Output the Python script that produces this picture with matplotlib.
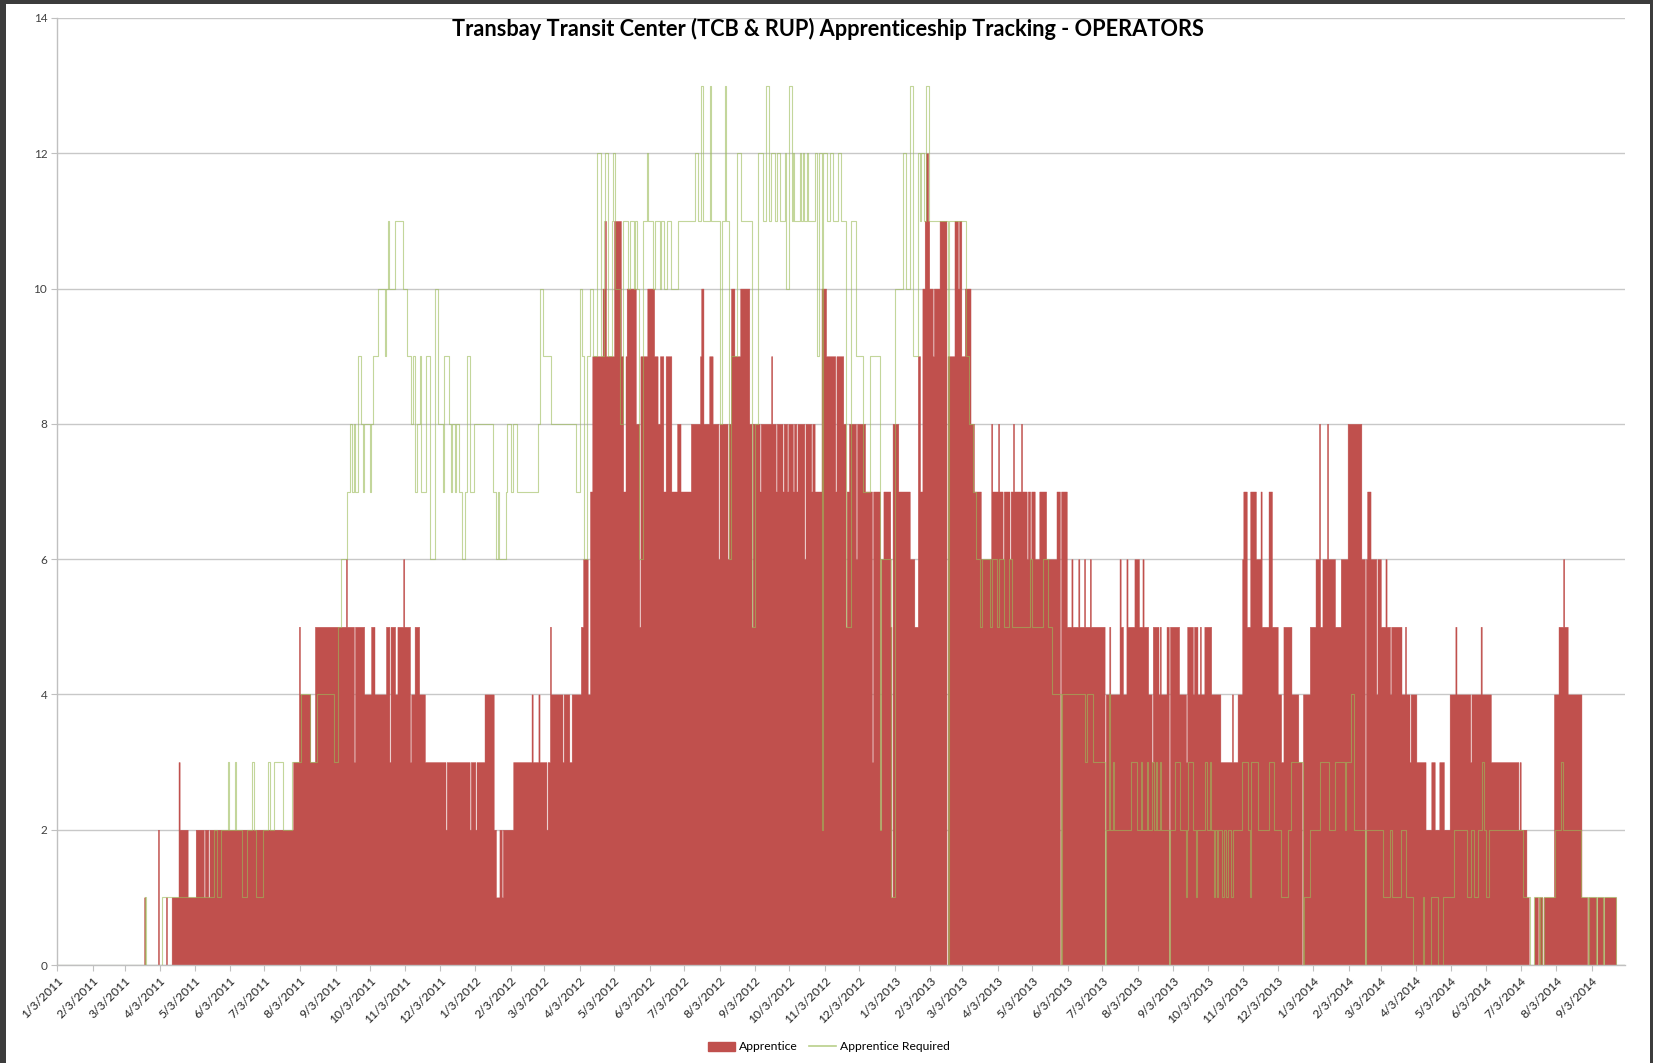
import numpy as np
import matplotlib
matplotlib.use("Agg")
import matplotlib.pyplot as plt
from matplotlib.patches import Rectangle, Patch
from matplotlib.lines import Line2D

plt.rcParams['font.family'] = ['Lato', 'DejaVu Sans']

TITLE = "Transbay Transit Center (TCB & RUP) Apprenticeship Tracking - OPERATORS"
START = "2011-01-03"      # first date of the series
END_DAY = 1368            # last date, days after START

# Apprentice (area): change points, days after START -> value held from that day
appr_day = [0, 76, 77, 88, 89, 95, 96, 100, 106, 107, 114, 121, 128, 129, 132, 133,
            206, 211, 212, 221, 225, 252, 253, 259, 260, 268, 274, 277, 287, 290, 291,
            295, 297, 302, 303, 308, 309, 312, 316, 321, 339, 340, 360, 361, 365, 366,
            373, 381, 383, 386, 388, 389, 398, 414, 415, 420, 421, 427, 428, 430, 431,
            441, 442, 447, 449, 457, 459, 463, 465, 467, 476, 478, 479, 486, 492, 494,
            496, 497, 505, 508, 509, 515, 521, 524, 526, 529, 531, 536, 541, 544, 553,
            561, 562, 564, 569, 572, 577, 578, 585, 586, 588, 591, 596, 604, 606, 607,
            613, 614, 623, 624, 627, 628, 633, 634, 637, 638, 642, 643, 645, 646, 652,
            653, 658, 659, 661, 667, 671, 679, 680, 686, 688, 689, 691, 697, 698, 705,
            711, 712, 718, 719, 721, 727, 728, 729, 734, 744, 748, 751, 753, 755, 757,
            758, 760, 761, 764, 765, 770, 776, 777, 783, 786, 787, 789, 792, 797, 800,
            806, 815, 816, 821, 822, 825, 826, 831, 832, 834, 835, 841, 842, 846, 847,
            849, 850, 853, 857, 863, 872, 875, 876, 881, 885, 886, 891, 892, 896, 897,
            901, 902, 914, 915, 918, 919, 927, 928, 930, 933, 934, 940, 944, 947, 948,
            952, 955, 956, 961, 962, 963, 968, 970, 971, 979, 985, 986, 991, 992, 995,
            997, 998, 1001, 1007, 1015, 1025, 1026, 1030, 1034, 1035, 1038, 1041, 1046,
            1050, 1051, 1057, 1060, 1065, 1068, 1070, 1077, 1083, 1086, 1087, 1093, 1098,
            1101, 1102, 1104, 1108, 1109, 1115, 1120, 1126, 1138, 1141, 1142, 1143, 1146,
            1151, 1152, 1155, 1159, 1160, 1163, 1164, 1173, 1176, 1177, 1180, 1181, 1186,
            1194, 1199, 1202, 1206, 1210, 1215, 1220, 1221, 1233, 1234, 1242, 1243, 1251,
            1275, 1276, 1277, 1282, 1284, 1289, 1292, 1293, 1296, 1297, 1306, 1310, 1314,
            1315, 1318, 1330, 1335, 1336, 1343, 1344, 1349, 1350, 1360, 1368]
appr_val = [0, 1, 0, 2, 0, 1, 0, 1, 3, 2, 1, 2, 1, 2, 1, 2,
            3, 5, 4, 3, 5, 6, 5, 3, 5, 4, 5, 4, 5, 3, 5,
            4, 5, 6, 5, 3, 4, 5, 4, 3, 2, 3, 2, 3, 2, 3,
            4, 2, 1, 2, 1, 2, 3, 4, 3, 4, 3, 2, 3, 5, 4,
            3, 4, 3, 4, 5, 6, 4, 7, 9, 10, 11, 9, 11, 9, 7,
            9, 10, 8, 5, 9, 10, 9, 8, 9, 7, 9, 7, 8, 7, 8,
            9, 10, 8, 9, 8, 6, 8, 6, 8, 10, 9, 10, 8, 5, 8,
            7, 8, 9, 8, 7, 8, 7, 8, 7, 8, 7, 8, 7, 8, 6,
            8, 7, 8, 7, 10, 9, 7, 9, 8, 5, 7, 8, 6, 8, 7,
            3, 7, 2, 6, 7, 5, 1, 8, 7, 6, 5, 9, 7, 10, 11,
            12, 11, 10, 9, 10, 11, 0, 9, 11, 10, 11, 9, 10, 8, 7,
            6, 8, 7, 8, 7, 6, 7, 6, 7, 8, 7, 8, 7, 6, 7,
            6, 7, 6, 7, 6, 7, 0, 7, 5, 6, 5, 6, 5, 6, 5,
            6, 5, 0, 4, 5, 4, 6, 5, 4, 6, 5, 6, 5, 6, 5,
            4, 3, 5, 4, 5, 4, 5, 0, 5, 4, 3, 5, 4, 5, 4,
            5, 4, 5, 4, 3, 4, 3, 4, 6, 7, 5, 7, 6,
            7, 5, 7, 5, 4, 3, 5, 4, 3, 0, 4, 5, 6,
            8, 5, 6, 8, 6, 5, 6, 8, 6, 0, 6, 7, 6,
            4, 6, 5, 6, 5, 4, 5, 4, 5, 4, 3, 4, 3,
            2, 3, 2, 3, 2, 4, 5, 4, 3, 4, 5, 4, 3,
            2, 3, 2, 1, 0, 1, 0, 1, 0, 1, 4, 5, 6,
            5, 4, 1, 0, 1, 0, 1, 0, 1, 0, 0]

# Apprentice Required (line): change points, days after START -> value
req_day = [0, 77, 78, 92, 137, 140, 143, 149, 150, 155, 156, 161, 166, 170, 172, 174,
           180, 184, 186, 189, 197, 205, 213, 221, 227, 242, 245, 248, 253, 256, 257,
           259, 260, 263, 265, 267, 268, 273, 274, 276, 280, 286, 287, 289, 290, 295,
           302, 305, 309, 311, 312, 314, 317, 318, 322, 325, 330, 332, 337, 338, 342,
           344, 345, 347, 348, 351, 353, 356, 358, 360, 364, 380, 383, 385, 386, 392,
           393, 396, 398, 401, 420, 421, 424, 431, 453, 456, 458, 460, 462, 465, 468,
           471, 475, 477, 478, 481, 484, 485, 487, 491, 494, 498, 500, 503, 504, 506,
           508, 511, 515, 516, 520, 522, 526, 527, 530, 532, 536, 542, 557, 559, 562,
           564, 570, 571, 578, 580, 583, 584, 586, 588, 593, 597, 606, 609, 612, 616,
           619, 621, 623, 626, 628, 631, 635, 636, 639, 641, 642, 643, 648, 649, 651,
           652, 654, 655, 661, 663, 665, 667, 668, 672, 674, 677, 681, 684, 688, 693,
           697, 703, 709, 718, 719, 728, 731, 738, 741, 744, 747, 751, 753, 754, 756,
           758, 761, 777, 778, 793, 796, 799, 802, 805, 807, 814, 816, 820, 822, 826,
           831, 833, 849, 851, 860, 865, 868, 876, 877, 897, 899, 904, 914, 915, 918,
           919, 921, 922, 937, 942, 946, 947, 951, 952, 955, 957, 959, 960, 962, 963,
           970, 971, 975, 980, 985, 986, 987, 991, 994, 995, 1002, 1003, 1006, 1007,
           1009, 1010, 1012, 1013, 1016, 1018, 1020, 1022, 1024, 1026, 1034, 1039, 1041,
           1042, 1048, 1057, 1062, 1068, 1074, 1077, 1087, 1088, 1093, 1102, 1110, 1115,
           1124, 1125, 1129, 1132, 1141, 1142, 1157, 1163, 1165, 1173, 1177, 1183, 1192,
           1193, 1199, 1205, 1209, 1219, 1230, 1234, 1236, 1240, 1243, 1245, 1247, 1249,
           1279, 1285, 1289, 1293, 1294, 1296, 1297, 1307, 1312, 1314, 1330, 1336, 1337,
           1343, 1344, 1349, 1350, 1360, 1368]
req_val = [0, 1, 0, 1, 2, 1, 2, 3, 2, 3, 2, 1, 2, 3, 2, 1,
           2, 3, 2, 3, 2, 3, 4, 3, 4, 3, 5, 6, 7, 8, 7,
           8, 7, 9, 8, 7, 8, 7, 8, 9, 10, 9, 10, 11, 10, 11,
           10, 9, 8, 9, 7, 8, 9, 7, 9, 6, 10, 8, 7, 9, 8,
           7, 8, 7, 8, 7, 6, 7, 9, 7, 8, 7, 6, 7, 6, 7,
           8, 7, 8, 7, 8, 10, 9, 8, 7, 10, 9, 6, 9, 10, 9,
           12, 9, 11, 12, 9, 11, 12, 10, 8, 11, 10, 11, 10, 11, 10,
           6, 11, 12, 11, 10, 11, 10, 11, 10, 11, 10, 11, 12, 11, 13,
           11, 13, 11, 8, 11, 13, 11, 6, 9, 12, 11, 5, 8, 12, 11,
           13, 11, 12, 11, 12, 11, 12, 10, 13, 11, 12, 11, 12, 11, 12,
           11, 12, 11, 12, 9, 12, 2, 12, 11, 12, 11, 12, 11, 5, 11,
           9, 7, 9, 2, 6, 1, 10, 12, 10, 13, 9, 12, 11, 12, 11,
           13, 11, 0, 11, 9, 8, 7, 6, 5, 6, 5, 6, 5, 6, 5,
           6, 5, 6, 5, 6, 5, 4, 0, 4, 3, 4, 3, 0, 2, 4,
           2, 3, 2, 3, 2, 3, 2, 3, 2, 3, 2, 3, 2, 3, 2,
           0, 2, 3, 2, 1, 2, 3, 2, 1, 2, 3, 2, 3, 2,
           1, 2, 1, 2, 1, 2, 1, 2, 1, 2, 3, 2, 1,
           3, 2, 3, 2, 1, 2, 3, 0, 1, 2, 3, 2, 3,
           2, 3, 4, 2, 0, 2, 1, 2, 1, 2, 1, 0, 1,
           0, 1, 0, 1, 2, 1, 2, 1, 2, 3, 2, 1, 2,
           1, 0, 1, 0, 1, 0, 1, 2, 3, 2, 1, 0, 1,
           0, 1, 0, 1, 0, 0]

tick_dates = ["2011-01-03", "2011-02-03", "2011-03-03", "2011-04-03", "2011-05-03",
              "2011-06-03", "2011-07-03", "2011-08-03", "2011-09-03", "2011-10-03",
              "2011-11-03", "2011-12-03", "2012-01-03", "2012-02-03", "2012-03-03",
              "2012-04-03", "2012-05-03", "2012-06-03", "2012-07-03", "2012-08-03",
              "2012-09-03", "2012-10-03", "2012-11-03", "2012-12-03", "2013-01-03",
              "2013-02-03", "2013-03-03", "2013-04-03", "2013-05-03", "2013-06-03",
              "2013-07-03", "2013-08-03", "2013-09-03", "2013-10-03", "2013-11-03",
              "2013-12-03", "2014-01-03", "2014-02-03", "2014-03-03", "2014-04-03",
              "2014-05-03", "2014-06-03", "2014-07-03", "2014-08-03", "2014-09-03"]
tick_labels = ["1/3/2011", "2/3/2011", "3/3/2011", "4/3/2011", "5/3/2011",
               "6/3/2011", "7/3/2011", "8/3/2011", "9/3/2011", "10/3/2011",
               "11/3/2011", "12/3/2011", "1/3/2012", "2/3/2012", "3/3/2012",
               "4/3/2012", "5/3/2012", "6/3/2012", "7/3/2012", "8/3/2012",
               "9/3/2012", "10/3/2012", "11/3/2012", "12/3/2012", "1/3/2013",
               "2/3/2013", "3/3/2013", "4/3/2013", "5/3/2013", "6/3/2013",
               "7/3/2013", "8/3/2013", "9/3/2013", "10/3/2013", "11/3/2013",
               "12/3/2013", "1/3/2014", "2/3/2014", "3/3/2014", "4/3/2014",
               "5/3/2014", "6/3/2014", "7/3/2014", "8/3/2014", "9/3/2014"]

assert len(appr_day) == len(appr_val), (len(appr_day), len(appr_val))
assert len(req_day) == len(req_val), (len(req_day), len(req_val))

start = np.datetime64(START)
appr_x = start + np.array(appr_day).astype("timedelta64[D]")
req_x = start + np.array(req_day).astype("timedelta64[D]")

W, H = 1653, 1063
fig = plt.figure(figsize=(W / 100, H / 100), dpi=100)
fig.patch.set_facecolor("#3c3c3c")
fig.add_artist(Rectangle((6 / W, 0), (W - 9) / W, (H - 4) / H, transform=fig.transFigure,
                         facecolor="white", edgecolor="none", zorder=-5))

ax = fig.add_axes([57 / W, 1 - 965 / H, (1625 - 57) / W, (965 - 18) / H])
ax.set_facecolor("none")

ax.fill_between(appr_x, 0, appr_val, step="post", facecolor="#C0504D",
                edgecolor="#C0504D", linewidth=0.3, zorder=2)
ax.plot(req_x, req_val, drawstyle="steps-post", color="#9BBB59", linewidth=0.8,
        alpha=0.6, zorder=3)

ax.set_xlim(start, start + np.timedelta64(END_DAY, "D"))
ax.set_ylim(0, 14)
ax.set_yticks(range(0, 15, 2))
ax.yaxis.grid(True, color="#c8c8c8", linewidth=1.0, zorder=0)
ax.set_axisbelow(True)

ax.set_xticks(np.array(tick_dates, dtype="datetime64[D]"))
ax.set_xticklabels(tick_labels, rotation=45, ha="right", rotation_mode="anchor",
                   fontsize=8.7, color="#202020")
for s in ["top", "right"]:
    ax.spines[s].set_visible(False)
for s in ["left", "bottom"]:
    ax.spines[s].set_color("#c0c0c0")
    ax.spines[s].set_linewidth(1.0)
ax.tick_params(axis="y", labelsize=8.5, colors="#404040", length=4, color="#c0c0c0", pad=3)
ax.tick_params(axis="x", length=4, color="#c0c0c0", pad=3)

fig.text(828 / W, 1 - 29 / H, TITLE, ha="center", va="center", fontsize=15.7,
         fontweight="bold", color="black")

handles = [Patch(facecolor="#C0504D", edgecolor="#C0504D"),
           Line2D([0], [0], color="#9BBB59", linewidth=1.2, alpha=0.7)]
fig.legend(handles, ["Apprentice", "Apprentice Required"], loc="center",
           bbox_to_anchor=(829 / W, 1 - 1047 / H), ncol=2, frameon=False, fontsize=8.7,
           handlelength=2.2, handleheight=0.8, columnspacing=1.0, handletextpad=0.3)

fig.savefig("out.png", dpi=100, facecolor=fig.get_facecolor())
